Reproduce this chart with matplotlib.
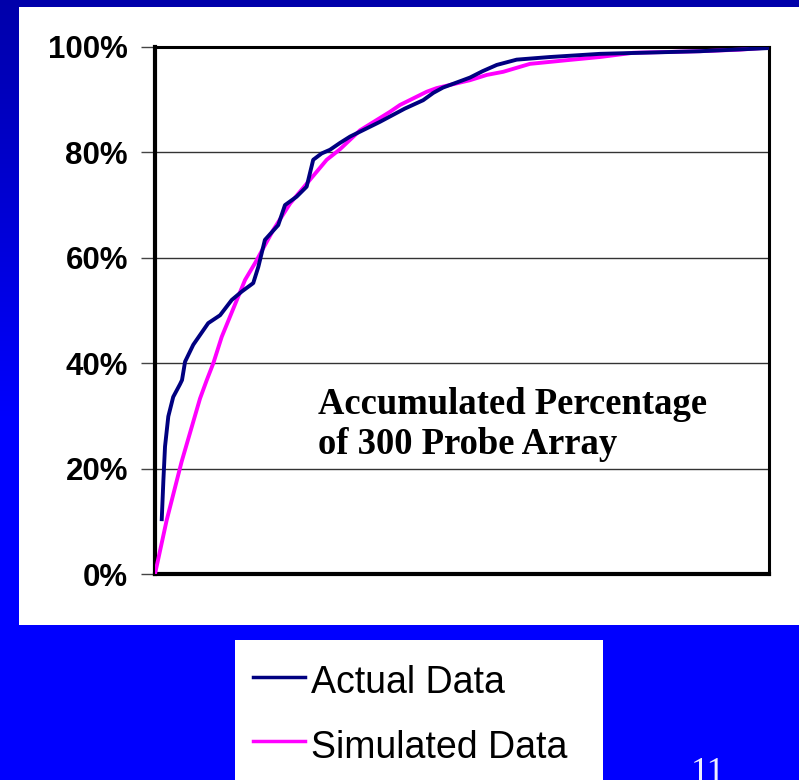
import numpy as np
import matplotlib
matplotlib.use("Agg")
import matplotlib.pyplot as plt
from matplotlib.patches import Rectangle
from matplotlib.lines import Line2D

# ---- data (probe index 0..300, accumulated percentage) ----
actual_x = [3.3, 4.1, 4.9, 6.5, 8.9, 12.2, 13.2, 14.7, 18.7, 26.0, 31.8, 37.5, 42.4, 48.0,
            50.5, 53.7, 60.2, 63.5, 69.2, 74.1, 77.3, 81.4, 85.5, 90.4, 95.3, 109.9,
            122.0, 131.0, 136.0, 140.7, 153.9, 160.0, 167.0, 176.7, 183.2, 193.0, 217.4,
            237.0, 266.3, 300.0]
actual_y = [10.4, 17.8, 24.2, 29.9, 33.6, 36.0, 36.8, 40.3, 43.5, 47.6, 49.1, 52.0, 53.6, 55.2,
            58.3, 63.4, 66.2, 70.0, 71.6, 73.5, 78.6, 79.8, 80.5, 81.8, 83.0, 85.8,
            88.3, 89.9, 91.3, 92.3, 94.2, 95.4, 96.6, 97.6, 97.8, 98.1, 98.7,
            98.9, 99.2, 99.8]

sim_x = [0.0, 5.7, 13.0, 22.0, 25.3, 28.5, 32.6, 38.3, 44.0, 48.9, 57.8, 66.0, 75.7, 83.9,
         90.4, 100.2, 114.8, 119.7, 132.7, 137.6, 153.9, 162.1, 170.2, 183.2, 201.3, 217.4,
         233.6, 266.3, 285.8, 300.0]
sim_y = [0.0, 10.2, 21.3, 33.3, 36.8, 40.0, 45.0, 50.4, 55.8, 59.0, 65.3, 70.3, 74.8, 78.6,
         80.6, 84.2, 87.7, 89.0, 91.5, 92.2, 93.7, 94.7, 95.3, 96.8, 97.5, 98.1,
         98.9, 99.2, 99.5, 99.9]

y_ticks = [0, 20, 40, 60, 80, 100]
y_tick_labels = ["0%", "20%", "40%", "60%", "80%", "100%"]
series_names = ["Actual Data", "Simulated Data"]
annotation = ["Accumulated Percentage", "of 300 Probe Array"]
page_number = "11"

W, H = 799, 780
fig = plt.figure(figsize=(W / 100, H / 100), dpi=100)

def fx(px):
    return px / W

def fy(py):
    return 1 - py / H

# ---- gradient slide background ----
bg = fig.add_axes([0, 0, 1, 1], zorder=-10)
rows = np.arange(H)
t = np.clip(rows / 420.0, 0, 1)
blue = 0xAA / 255 + (1 - 0xAA / 255) * t
img = np.zeros((H, 2, 3))
img[:, :, 2] = blue[:, None]
bg.imshow(img, aspect="auto", extent=[0, 1, 0, 1], origin="upper")
bg.set_axis_off()

# white chart area
fig.patches.append(Rectangle((fx(19), fy(625)), fx(799 - 19), (625 - 7) / H,
                             transform=fig.transFigure, facecolor="white",
                             edgecolor="none", zorder=-5))
# white legend box
fig.patches.append(Rectangle((fx(235), fy(780)), fx(603 - 235), (780 - 640) / H,
                             transform=fig.transFigure, facecolor="white",
                             edgecolor="none", zorder=-5))

# ---- main axes ----
ax = fig.add_axes([fx(155), fy(574), fx(769 - 155), (574 - 47) / H])
ax.set_facecolor("white")
ax.plot(sim_x, sim_y, color="#FF00FF", lw=2.8, zorder=3, solid_joinstyle="round")
ax.plot(actual_x, actual_y, color="#000080", lw=2.8, zorder=4, solid_joinstyle="round")
ax.set_xlim(0, 300)
ax.set_ylim(0, 100)
ax.set_xticks([])
ax.set_yticks(y_ticks)
ax.set_yticklabels(y_tick_labels, fontfamily="Liberation Sans", fontweight="bold",
                   fontsize=22.5)
ax.tick_params(axis="y", direction="out", length=10, width=1, color="#444444",
               pad=9.5)
for v in y_ticks[1:-1]:
    ax.axhline(v, color="#333333", lw=1, zorder=1)
for side in ["left", "bottom"]:
    ax.spines[side].set_linewidth(3)
    ax.spines[side].set_color("black")
for side in ["top", "right"]:
    ax.spines[side].set_linewidth(2.2)
    ax.spines[side].set_color("black")

# annotation text
for line, base in zip(annotation, [414, 454]):
    fig.text(fx(318), fy(base), line, fontfamily="Liberation Serif",
             fontweight="bold", fontsize=26.4, va="baseline", ha="left")

# ---- legend ----
legend_colors = ["#000080", "#FF00FF"]
legend_line_y = [677, 741]
legend_base_y = [693, 758]
for name, col, ly, by in zip(series_names, legend_colors, legend_line_y, legend_base_y):
    fig.lines.append(Line2D([fx(253), fx(305)], [fy(ly), fy(ly)],
                            transform=fig.transFigure, color=col, lw=2.5))
    fig.text(fx(311), fy(by), name, fontfamily="Liberation Sans", fontsize=27,
             va="baseline", ha="left")

# page number
fig.text(fx(691), fy(782), page_number, fontfamily="Liberation Serif", fontsize=26,
         color="#EEEEFF", va="baseline", ha="left")

fig.savefig("out.png", dpi=100)
